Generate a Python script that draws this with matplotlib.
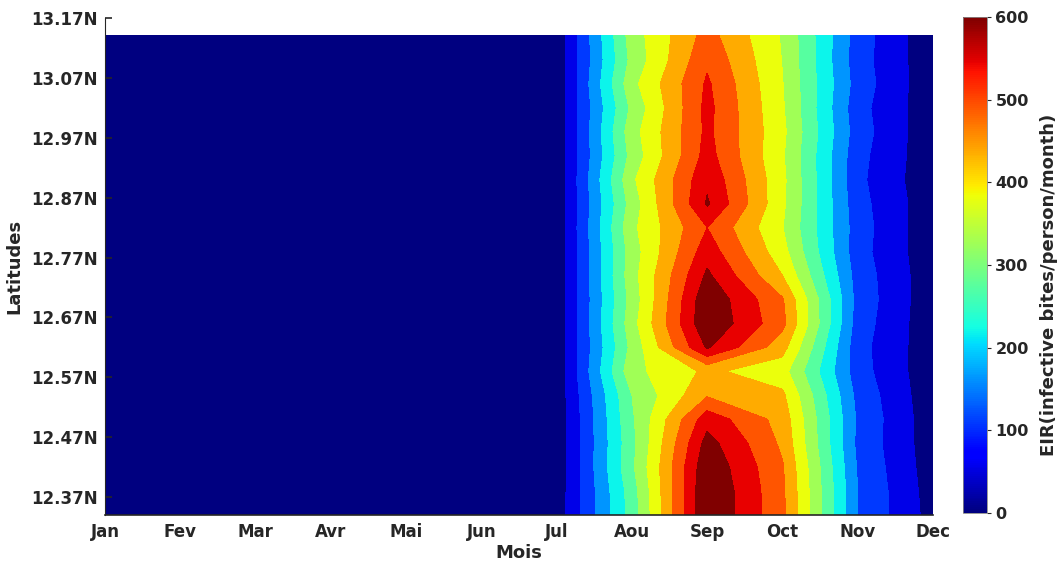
import numpy as np
import matplotlib
matplotlib.use("Agg")
import matplotlib.pyplot as plt
from matplotlib import cm, colors

# mois (1 = Jan ... 12 = Dec) et latitudes de la grille
mois = np.arange(1, 13)
noms_mois = ['Jan', 'Fev', 'Mar', 'Avr', 'Mai', 'Jun',
             'Jul', 'Aou', 'Sep', 'Oct', 'Nov', 'Dec']
latitudes = np.round(12.34 + 0.04 * np.arange(21), 2)

# EIR de juillet a decembre, une ligne par latitude (du sud au nord)
jul = [20, 18, 14, 16, 12, 15, 12, 15, 12, 14, 12, 14, 12, 15, 12, 14, 12, 16, 12, 15, 13]
aou = [270, 275, 290, 285, 292, 300, 335, 315, 330, 320, 330, 325, 338, 322, 340, 318, 330, 312, 335, 315, 325]
sep = [600, 600, 590, 570, 530, 445, 410, 556, 595, 590, 560, 528, 500, 556, 540, 520, 512, 515, 508, 490, 470]
octo = [462, 460, 455, 440, 430, 410, 370, 420, 465, 455, 400, 368, 352, 360, 362, 356, 362, 356, 352, 348, 345]
nov = [148, 150, 145, 138, 142, 135, 122, 118, 126, 132, 128, 120, 124, 118, 112, 116, 124, 118, 128, 122, 126]
dec = [30, 26, 22, 20, 18, 15, 14, 16, 14, 15, 16, 14, 12, 16, 12, 14, 12, 15, 12, 14, 12]

# janvier a juin : pas de transmission
eir = np.zeros((len(latitudes), 12))
eir[:, 6] = jul
eir[:, 7] = aou
eir[:, 8] = sep
eir[:, 9] = octo
eir[:, 10] = nov
eir[:, 11] = dec

niveaux = np.arange(0, 650, 50)
# chaque bande prend la couleur de son niveau bas (comme contourf de MATLAB)
couleurs_bandes = plt.get_cmap('jet')(np.linspace(0, 1, len(niveaux) - 1))
gris = '#262626'

fig = plt.figure(figsize=(10.59, 5.63), dpi=100)
ax = fig.add_axes([105 / 1059, 48 / 563, 828 / 1059, 497 / 563])
ax.contourf(mois, latitudes, eir, levels=niveaux, colors=couleurs_bandes)

ax.set_xlim(1, 12)
ax.set_ylim(12.34, 13.17)
ax.set_xticks(mois)
ax.set_xticklabels(noms_mois)
yt = [12.37, 12.47, 12.57, 12.67, 12.77, 12.87, 12.97, 13.07, 13.17]
ax.set_yticks(yt)
ax.set_yticklabels([f"{v:.2f}N" for v in yt])
for lab in ax.get_xticklabels() + ax.get_yticklabels():
    lab.set_fontweight('bold')
    lab.set_color(gris)
ax.tick_params(axis='x', length=0, labelsize=12, pad=6)
ax.tick_params(axis='y', direction='in', length=5, width=1.2, color=gris, labelsize=12, pad=5)
ax.spines['top'].set_visible(False)
ax.spines['right'].set_visible(False)
ax.spines['left'].set_color(gris)
ax.spines['bottom'].set_color(gris)
ax.spines['bottom'].set_linewidth(1.2)
ax.set_xlabel('Mois', fontsize=13, fontweight='bold', color=gris, labelpad=2)
ax.set_ylabel('Latitudes', fontsize=13, fontweight='bold', color=gris, labelpad=6)

# barre de couleur continue
cax = fig.add_axes([963 / 1059, 50 / 563, 24 / 1059, 496 / 563])
sm = cm.ScalarMappable(norm=colors.Normalize(0, 600), cmap='jet')
cb = fig.colorbar(sm, cax=cax, ticks=np.arange(0, 700, 100))
cb.outline.set_edgecolor('#888888')
cb.outline.set_linewidth(0.6)
cax.tick_params(length=3, color=gris, labelsize=11.5, pad=3)
for lab in cax.get_yticklabels():
    lab.set_fontweight('bold')
    lab.set_color(gris)
cb.set_label('EIR(infective bites/person/month)', fontsize=13,
             fontweight='bold', color=gris)
cax.yaxis.set_label_coords(3.2, 0.46)

fig.savefig('out.png', dpi=100)
